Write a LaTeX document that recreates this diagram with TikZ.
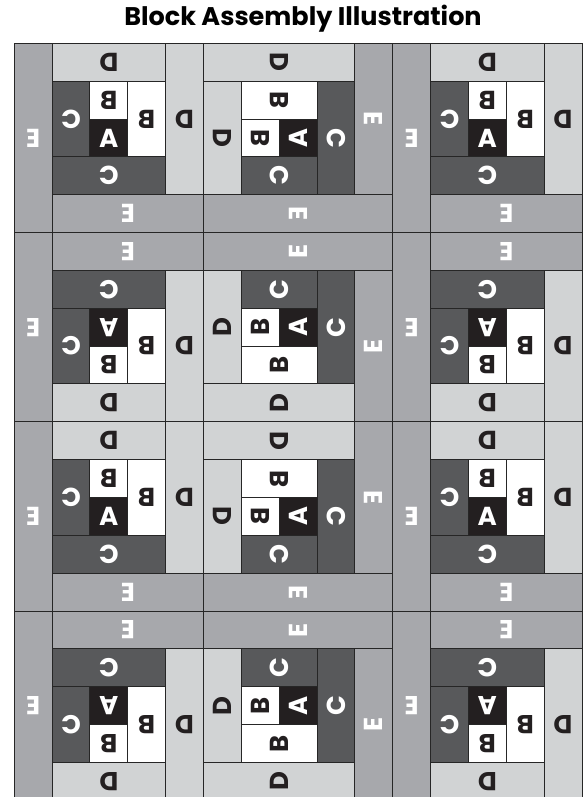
\documentclass[tikz,border=0pt]{standalone}
\usepackage{fontspec}
\setsansfont{Poppins}
\usetikzlibrary{calc}
\definecolor{Egray}{RGB}{167,168,172}
\definecolor{Dgray}{RGB}{209,211,212}
\definecolor{Cgray}{RGB}{88,89,91}
\definecolor{Ablack}{RGB}{35,31,32}
\tikzset{
  seam/.style={draw=black!85, line width=0.9pt},
  Epatch/.style={seam, fill=Egray, text=white},
  Dpatch/.style={seam, fill=Dgray, text=Ablack},
  Cpatch/.style={seam, fill=Cgray, text=white},
  Bpatch/.style={seam, fill=white, text=Ablack},
  Apatch/.style={seam, fill=Ablack, text=white},
  letter/.style={font=\sffamily\bfseries\fontsize{26}{26}\selectfont, transform shape, xscale=-1, inner sep=0pt}
}
\newcommand\patch[4]{\draw[#1] (#2) rectangle (#3) node[letter] at ($(#2)!0.5!(#3)$) {#4};}
\newcommand\logblock{%
  \patch{Epatch}{0,0}{1,5}{E}
  \patch{Dpatch}{1,4}{4,5}{D}
  \patch{Dpatch}{4,1}{5,5}{D}
  \patch{Cpatch}{1,2}{2,4}{C}
  \patch{Bpatch}{2,3}{3,4}{B}
  \patch{Apatch}{2,2}{3,3}{A}
  \patch{Bpatch}{3,2}{4,4}{B}
  \patch{Cpatch}{1,1}{4,2}{C}
  \patch{Epatch}{1,0}{5,1}{E}
}
\begin{document}
\begin{tikzpicture}[x=1pt, y=1pt]
\useasboundingbox (0,0) rectangle (583,797);
\clip (0,0) rectangle (583,797);
\node[font=\sffamily\bfseries\fontsize{25.5}{25.5}\selectfont] (title) at (303,778) {Block Assembly Illustration};
\begin{scope}[x=37.85pt, y=37.85pt, shift={(14.2pt,753.7pt)}]
\foreach \r in {0,2} {
  \foreach \c in {0,2} {
    \begin{scope}[shift={(5*\c,-5*\r-5)}] \logblock \end{scope}
  }
  \begin{scope}[shift={(5,-5*\r-5)}, rotate around={90:(2.5,2.5)}] \logblock \end{scope}
}
\foreach \r in {1,3} {
  \foreach \c in {0,2} {
    \begin{scope}[shift={(5*\c,-5*\r)}, yscale=-1] \logblock \end{scope}
  }
  \begin{scope}[shift={(5,-5*\r)}, yscale=-1, rotate around={90:(2.5,2.5)}] \logblock \end{scope}
}
\end{scope}
\end{tikzpicture}
\end{document}
